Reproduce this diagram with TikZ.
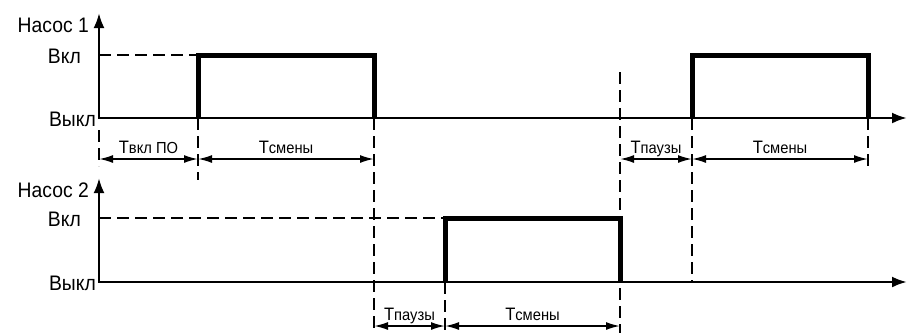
\documentclass[tikz,border=0pt]{standalone}
\usepackage{fontspec}
\setmainfont{Liberation Sans}[FakeStretch=0.92]
\usetikzlibrary{arrows.meta}
\def\xaxis{99}
\def\xend{907}
\newcommand{\Tsub}[1]{T{\fontsize{16}{17}\selectfont #1}}
% pump axes: name, base y, on y, tip y, title
\newcommand{\pump}[5]{
    \coordinate (#1tip) at (\xaxis,#4);
    \coordinate (#1o) at (\xaxis,#2);
    \coordinate (#1end) at (\xend,#2);
    \coordinate (#1on) at (\xaxis,#3);
    \draw[axisline] (#1tip) |- (#1end);
    \node[bigtext,anchor=base east] (#1title) at (89,#4+19) {#5};
    \node[bigtext,anchor=base east] (#1vkl) at (81,#3+8) {Вкл};
    \node[bigtext,anchor=base east] (#1vykl) at (96,#2+8) {Выкл};
}
% pulse: name, x on, x off, base y, on y
\newcommand{\pulse}[5]{
    \coordinate (#1up) at (#2,#4);
    \coordinate (#1on) at (#2,#5);
    \coordinate (#1off) at (#3,#5);
    \coordinate (#1down) at (#3,#4);
    \draw[pulseline] (#1up) -- (#1on) -- (#1off) -- (#1down);
}
% time span: name, x left, x right, y, label
\newcommand{\tspan}[5]{
    \coordinate (#1l) at (#2,#4);
    \coordinate (#1r) at (#3,#4);
    \draw[dimline] (#1l) -- (#1r)
    node[dimtext,midway,anchor=base,yshift=6pt] (#1txt) {\Tsub{#5}};
}
\tikzset{
    axisline/.style={line width=2.6pt,{Latex[length=15pt,width=11pt]}-{Latex[length=15pt,width=11pt]}},
    pulseline/.style={line width=5pt,line join=miter},
    guide/.style={line width=1.5pt,dash pattern=on 12pt off 6pt},
    dimline/.style={line width=1.8pt,{Latex[length=14pt,width=8pt]}-{Latex[length=14pt,width=8pt]}},
    bigtext/.style={inner sep=0pt,font=\fontsize{21}{22}\selectfont},
    dimtext/.style={inner sep=0pt,font=\fontsize{18}{18}\selectfont},
}
\begin{document}
\begin{tikzpicture}[x=1pt,y=-1pt]
    \useasboundingbox (0,0) rectangle (908,333);
    % guide lines
    \draw[guide] (99,55) -- (198,55);
    \draw[guide] (99,218) -- (445,218);
    \draw[guide] (99,130) -- (99,166);
    \draw[guide] (198,118) -- (198,180);
    \draw[guide] (374,118) -- (374,333);
    \draw[guide] (620,72) -- (620,333);
    \draw[guide] (692,118) -- (692,282);
    \draw[guide] (868,118) -- (868,166);
    \draw[guide] (445,282) -- (445,333);
    % pump 1
    \pump{a}{118}{55}{13}{Насос 1}
    \pulse{a1}{198}{374}{118}{55}
    \pulse{a2}{692}{868}{118}{55}
    \tspan{d1}{99}{198}{159}{вкл ПО}
    \tspan{d2}{198}{374}{159}{смены}
    \tspan{d3}{620}{692}{159}{паузы}
    \tspan{d4}{692}{868}{159}{смены}
    % pump 2
    \pump{b}{282}{218}{178}{Насос 2}
    \pulse{b1}{445}{620}{282}{218}
    \tspan{d5}{374}{445}{326}{паузы}
    \tspan{d6}{445}{620}{326}{смены}
\end{tikzpicture}
\end{document}
